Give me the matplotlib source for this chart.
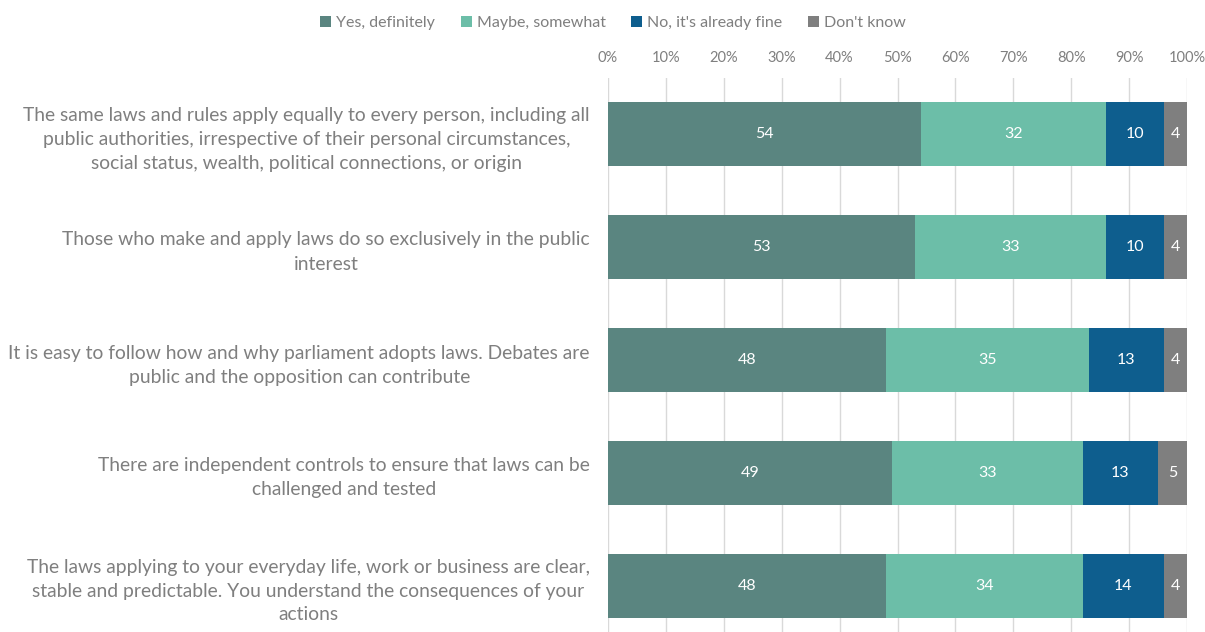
import matplotlib
matplotlib.use("Agg")
import matplotlib.pyplot as plt
import numpy as np

categories = [
    "The same laws and rules apply equally to every person, including all\npublic authorities, irrespective of their personal circumstances,\nsocial status, wealth, political connections, or origin",
    "Those who make and apply laws do so exclusively in the public\ninterest",
    "It is easy to follow how and why parliament adopts laws. Debates are\npublic and the opposition can contribute",
    "There are independent controls to ensure that laws can be\nchallenged and tested",
    "The laws applying to your everyday life, work or business are clear,\nstable and predictable. You understand the consequences of your\nactions",
]
series_names = ["Yes, definitely", "Maybe, somewhat", "No, it's already fine", "Don't know"]
yes_vals = [54, 53, 48, 49, 48]
maybe_vals = [32, 33, 35, 33, 34]
no_vals = [10, 10, 13, 13, 14]
dk_vals = [4, 4, 4, 5, 4]
tick_labels = ["0%", "10%", "20%", "30%", "40%", "50%", "60%", "70%", "80%", "90%", "100%"]

colors = ["#5a8580", "#6cbea8", "#0e5e8e", "#7f7f7f"]
plt.rcParams['font.family'] = ['Lato', 'DejaVu Sans']
text_gray = "#7f7f7f"

fig = plt.figure(figsize=(12.05, 6.32), dpi=100)
ax = fig.add_axes([608/1205, -10.5/632, (1187-608)/1205, 565/632])

y = np.arange(len(categories))
left = np.zeros(len(categories))
for name, vals, c in zip(series_names, [yes_vals, maybe_vals, no_vals, dk_vals], colors):
    vals = np.array(vals, dtype=float)
    ax.barh(y, vals, left=left, height=0.57, color=c, label=name, zorder=3)
    for yi, l, v in zip(y, left, vals):
        ax.text(l + v / 2, yi, f"{int(v)}", ha="center", va="center", color="white", fontsize=11.5, zorder=4)
    left += vals

ax.set_xlim(0, 100)
ax.set_ylim(len(categories) - 0.5, -0.5)
ax.set_xticks(np.arange(0, 101, 10))
ax.set_xticklabels(tick_labels)
ax.xaxis.tick_top()
ax.tick_params(axis='x', length=0, labelsize=10.5, colors=text_gray, pad=9)
ax.set_yticks(y)
ax.set_yticklabels(categories)
ax.tick_params(axis='y', length=0, labelsize=13.85, colors=text_gray, pad=13)
for t in ax.get_yticklabels():
    t.set_multialignment('center')
    t.set_linespacing(1.5)
ax.grid(axis='x', color="#d9d9d9", linewidth=1, zorder=0)
for s in ax.spines.values():
    s.set_visible(False)

leg = fig.legend(loc="center", bbox_to_anchor=(613/1205, 1 - 23/632), ncol=4, frameon=False,
                 fontsize=11.5, handlelength=0.7, handleheight=0.7, handletextpad=0.3, columnspacing=1.6)
for t in leg.get_texts():
    t.set_color(text_gray)

fig.savefig("out.png", dpi=100)
